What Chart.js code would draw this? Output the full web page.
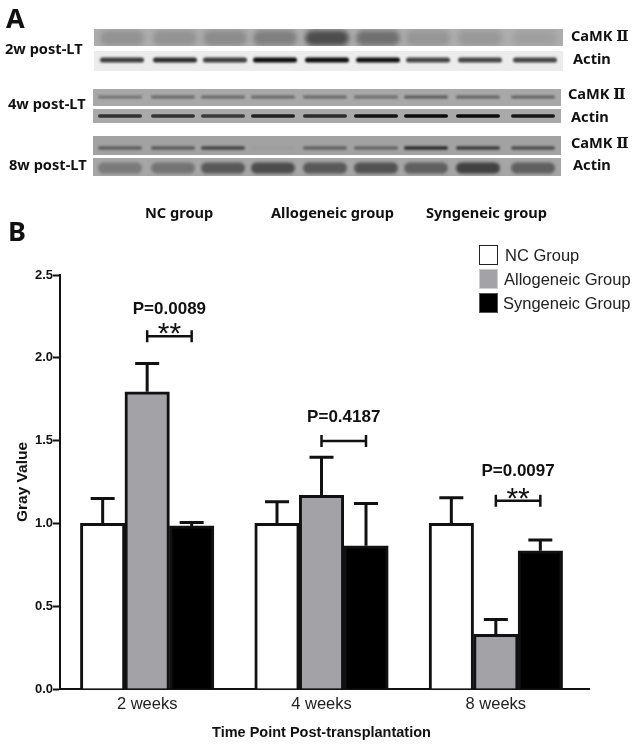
<!DOCTYPE html>
<html>
<head>
<meta charset="utf-8">
<title>CaMK II</title>
<script src="https://cdn.jsdelivr.net/npm/chart.js@4"></script>
<style>
    html, body { margin: 0; padding: 0; background: #fff; }
    canvas { display: block; }
</style>
</head>
<body>
<canvas id="chart" width="638" height="747"></canvas>
<script>
const categories = ["2 weeks", "4 weeks", "8 weeks"];
const groups = ["NC Group", "Allogeneic Group", "Syngeneic Group"];
const yTicks = [0, 0.5, 1, 1.5, 2, 2.5];

const ncValues = [1.0, 1.0, 1.0];
const alloValues = [1.795, 1.17, 0.33];
const synValues = [0.985, 0.865, 0.835];

const ncErrors = [0.15, 0.13, 0.155];
const alloErrors = [0.17, 0.23, 0.09];
const synErrors = [0.02, 0.255, 0.065];

const pLabels = ["P=0.0089", "P=0.4187", "P=0.0097"];
const pLevels = [2.29, 1.64, 1.315];
const bracketLevels = [2.13, 1.497, 1.137];
const bracketStars = ["**", "", "**"];

// band darkness of the nine blot lanes, 0 = nothing, 1 = black
const camk2w = [0.16, 0.16, 0.2, 0.28, 0.6, 0.38, 0.14, 0.12, 0.08];
const actin2w = [0.78, 0.85, 0.78, 1, 1, 0.98, 0.75, 0.75, 0.75];
const camk4w = [0.35, 0.42, 0.42, 0.42, 0.42, 0.4, 0.5, 0.45, 0.45];
const actin4w = [0.75, 0.75, 0.7, 0.88, 0.8, 0.95, 1, 1, 0.92];
const camk8w = [0.45, 0.48, 0.62, 0.03, 0.42, 0.4, 0.8, 0.68, 0.55];
const actin8w = [0.28, 0.32, 0.5, 0.58, 0.5, 0.54, 0.46, 0.66, 0.46];

const strips = [
    {y: 29, h: 17, x0: 94, x1: 563, bg: "#adadad", band: 9, size: 15, blur: 2.5, lanes: camk2w, shift: 0},
    {y: 51, h: 20, x0: 94, x1: 563, bg: "#ececec", band: 9, size: 5, blur: 1, lanes: actin2w, shift: 0},
    {y: 89, h: 17, x0: 93, x1: 561, bg: "#a8a8a8", band: 8, size: 3, blur: 1, lanes: camk4w, shift: -2},
    {y: 109, h: 14, x0: 93, x1: 561, bg: "#a9a9a9", band: 7, size: 3.5, blur: 0.7, lanes: actin4w, shift: -2},
    {y: 136, h: 19, x0: 93, x1: 561, bg: "#a2a2a2", band: 12, size: 3.5, blur: 1, lanes: camk8w, shift: -2},
    {y: 158, h: 18, x0: 93, x1: 561, bg: "#a6a6a6", band: 10, size: 11, blur: 1.8, lanes: actin8w, shift: -2},
];
const laneCenters = [122, 175, 225, 275, 327, 378, 428, 480, 535];

const panelFont = "'Noto Sans', 'DejaVu Serif', serif";
const blotLabels = [
    ["A", 6, 20, "bold 27px"], ["B", 8, 233, "bold 27px"],
    ["2w post-LT", 5, 50, "bold 14.6px"], ["4w post-LT", 8, 105, "bold 14.6px"], ["8w post-LT", 9, 166, "bold 14.6px"],
    ["CaMK Ⅱ", 571, 37, "bold 14.6px"], ["Actin", 573, 60, "bold 14.6px"],
    ["CaMK Ⅱ", 568, 95, "bold 14.6px"], ["Actin", 571, 118, "bold 14.6px"],
    ["CaMK Ⅱ", 571, 144, "bold 14.6px"], ["Actin", 573, 166, "bold 14.6px"],
    ["NC group", 145, 214, "bold 14.6px"], ["Allogeneic group", 271, 214, "bold 14.6px"], ["Syngeneic group", 426, 214, "bold 14.6px"],
];

const blotPlugin = {
    id: "blots",
    beforeDraw(chart) {
        const ctx = chart.ctx;
        strips.forEach(s => {
            ctx.save();
            ctx.beginPath();
            ctx.rect(s.x0, s.y, s.x1 - s.x0, s.h);
            ctx.clip();
            ctx.fillStyle = s.bg;
            ctx.fillRect(s.x0, s.y, s.x1 - s.x0, s.h);
            ctx.filter = "blur(" + s.blur + "px)";
            ctx.lineCap = "round";
            ctx.lineWidth = s.size;
            s.lanes.forEach((dark, i) => {
                const cx = laneCenters[i] + s.shift;
                const halfWidth = 22 - s.size / 2;
                ctx.strokeStyle = "rgba(12,12,12," + dark + ")";
                ctx.beginPath();
                ctx.moveTo(cx - halfWidth, s.y + s.band);
                ctx.lineTo(cx + halfWidth, s.y + s.band);
                ctx.stroke();
            });
            ctx.restore();
        });
        ctx.save();
        ctx.fillStyle = "#111";
        ctx.textAlign = "left";
        ctx.textBaseline = "middle";
        blotLabels.forEach(([text, x, y, font]) => {
            ctx.font = font + " " + panelFont;
            ctx.fillText(text, x, y);
        });
        ctx.restore();
    }
};

const marksPlugin = {
    id: "marks",
    afterDatasetsDraw(chart) {
        const ctx = chart.ctx;
        const yScale = chart.scales.y;
        const errors = [ncErrors, alloErrors, synErrors];
        ctx.save();
        ctx.strokeStyle = "#111";
        ctx.fillStyle = "#111";

        // error bars
        ctx.lineWidth = 3;
        chart.data.datasets.forEach((ds, d) => {
            chart.getDatasetMeta(d).data.forEach((bar, i) => {
                const top = yScale.getPixelForValue(ds.data[i] + errors[d][i]);
                const base = yScale.getPixelForValue(ds.data[i]);
                ctx.beginPath();
                ctx.moveTo(bar.x, base);
                ctx.lineTo(bar.x, top);
                ctx.moveTo(bar.x - 12, top);
                ctx.lineTo(bar.x + 12, top);
                ctx.stroke();
            });
        });

        // x axis runs a little past the last group
        ctx.lineWidth = 2;
        const zero = yScale.getPixelForValue(0);
        ctx.beginPath();
        ctx.moveTo(chart.chartArea.right, zero);
        ctx.lineTo(chart.chartArea.right + 7, zero);
        ctx.stroke();

        // significance brackets
        ctx.textAlign = "center";
        categories.forEach((c, i) => {
            const x0 = chart.getDatasetMeta(1).data[i].x;
            const x1 = chart.getDatasetMeta(2).data[i].x;
            const y = yScale.getPixelForValue(bracketLevels[i]);
            ctx.lineWidth = 2.5;
            ctx.beginPath();
            ctx.moveTo(x0, y - 6);
            ctx.lineTo(x0, y + 6);
            ctx.moveTo(x0, y);
            ctx.lineTo(x1, y);
            ctx.moveTo(x1, y - 6);
            ctx.lineTo(x1, y + 6);
            ctx.stroke();
            ctx.textBaseline = "middle";
            ctx.font = "bold 17px 'Liberation Sans', sans-serif";
            ctx.fillText(pLabels[i], (x0 + x1) / 2, yScale.getPixelForValue(pLevels[i]));
            if (bracketStars[i]) {
                ctx.font = "30px 'Liberation Sans', sans-serif";
                ctx.textBaseline = "alphabetic";
                ctx.fillText(bracketStars[i], (x0 + x1) / 2, y + 7);
            }
        });

        // legend
        const swatchBorders = ["#222", "#ccc", "#555"];
        const swatchY = [245, 269, 293];
        const textX = [505, 504, 503];
        ctx.textAlign = "left";
        ctx.textBaseline = "middle";
        ctx.font = "16.5px 'Liberation Sans', sans-serif";
        chart.data.datasets.forEach((ds, d) => {
            ctx.fillStyle = ds.backgroundColor;
            ctx.strokeStyle = swatchBorders[d];
            ctx.lineWidth = 1;
            ctx.fillRect(479.5, swatchY[d] + 0.5, 18, 19);
            ctx.strokeRect(479.5, swatchY[d] + 0.5, 18, 19);
            ctx.fillStyle = "#222";
            ctx.fillText(ds.label, textX[d], swatchY[d] + 11);
        });
        ctx.restore();
    }
};

new Chart(document.getElementById("chart"), {
    type: "bar",
    data: {
        labels: categories,
        datasets: [
            {label: groups[0], data: ncValues, backgroundColor: "#ffffff"},
            {label: groups[1], data: alloValues, backgroundColor: "#a3a2a7"},
            {label: groups[2], data: synValues, backgroundColor: "#000000"},
        ]
    },
    options: {
        responsive: false,
        animation: false,
        devicePixelRatio: 1,
        layout: {padding: {top: 275, right: 55, bottom: 0, left: 0}},
        datasets: {
            bar: {
                borderColor: "#111111",
                borderWidth: 3,
                borderSkipped: "bottom",
                barThickness: 44.5
            }
        },
        plugins: {
            legend: {display: false},
            tooltip: {enabled: false}
        },
        scales: {
            x: {
                afterFit: scale => { scale.height = 58; },
                grid: {display: false, drawTicks: false},
                border: {color: "#111", width: 2},
                ticks: {
                    color: "#222",
                    font: {family: "'Liberation Sans', sans-serif", size: 16.5},
                    padding: 6,
                    maxRotation: 0
                },
                title: {
                    display: true,
                    text: "Time Point Post-transplantation",
                    color: "#111",
                    font: {family: "'Liberation Sans', sans-serif", size: 14.5, weight: "bold"},
                    padding: {top: 0, bottom: 5}
                }
            },
            y: {
                min: 0,
                max: 2.5,
                afterFit: scale => { scale.width = 60; },
                afterBuildTicks: scale => { scale.ticks = yTicks.map(v => ({value: v})); },
                grid: {drawOnChartArea: false, tickLength: 7, tickWidth: 2, tickColor: "#111"},
                border: {color: "#111", width: 2},
                ticks: {
                    color: "#111",
                    font: {family: "'Liberation Sans', sans-serif", size: 13, weight: "bold"},
                    padding: 0,
                    callback: v => v.toFixed(1)
                },
                title: {
                    display: true,
                    text: "Gray Value",
                    color: "#111",
                    font: {family: "'Liberation Sans', sans-serif", size: 15.5, weight: "bold"},
                    padding: {top: 13, bottom: 0}
                }
            }
        }
    },
    plugins: [blotPlugin, marksPlugin]
});
</script>
</body>
</html>
